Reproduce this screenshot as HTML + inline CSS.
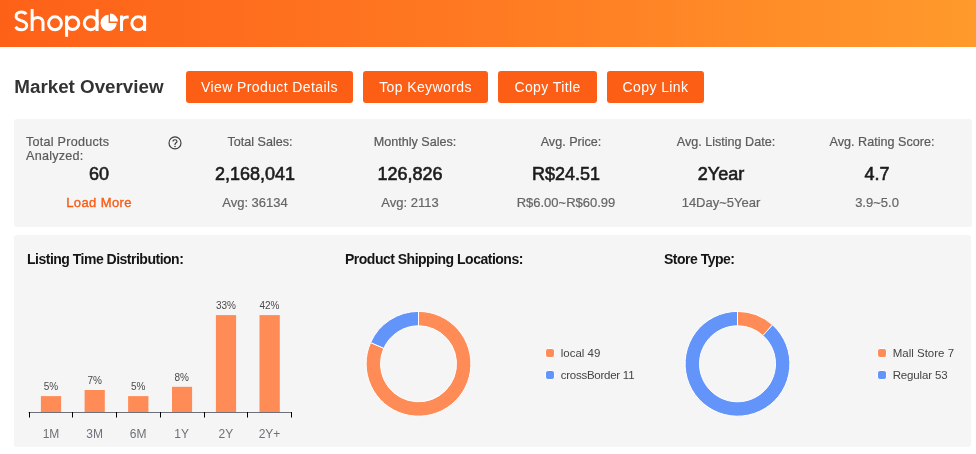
<!DOCTYPE html>
<html><head><meta charset="utf-8">
<style>
*{margin:0;padding:0;box-sizing:border-box}
html,body{width:976px;height:454px;overflow:hidden;background:#fff;}body{will-change:transform;font-family:"Liberation Sans",sans-serif}
.abs{position:absolute}
#hdr{left:0;top:0;width:976px;height:47px;background:linear-gradient(90deg,#FD6118 0%,#FF7A22 50%,#FF9A2C 100%)}
.logo{left:14px;top:0;height:46px;color:#fff;font-size:29px;line-height:46px;letter-spacing:0.6px;white-space:nowrap}
.title{left:14.3px;top:71.3px;height:32px;line-height:32px;font-size:18.8px;font-weight:bold;color:#333}
.btn{top:71px;height:32px;line-height:32px;background:#FC5E16;color:#fff;font-size:14px;letter-spacing:0.4px;text-align:center;border-radius:3px;white-space:nowrap}
.box{background:#F5F5F5;border-radius:3px}
.lbl{font-size:12.6px;color:#5a5a5a;-webkit-text-stroke:0.2px #5a5a5a;white-space:nowrap;text-align:center;width:200px}
.val{font-size:18px;font-weight:normal;-webkit-text-stroke:0.6px #1c1c1c;color:#1c1c1c;white-space:nowrap;text-align:center;width:200px}
.sub{font-size:13px;color:#666;-webkit-text-stroke:0.2px #666;white-space:nowrap;text-align:center;width:200px}
.ct{font-size:14px;font-weight:bold;color:#151515;letter-spacing:-0.5px;white-space:nowrap}
.leg{font-size:11.5px;color:#444;white-space:nowrap}
.sq{width:10px;height:10px;border:1px solid #fff;border-radius:3px}
</style></head><body>
<div id="hdr" class="abs"></div>
<svg class="abs" style="left:0;top:0" width="160" height="46" viewBox="0 0 160 46"><g fill="none" stroke="#fff" stroke-width="3"><path d="M26.2 14.2 C25.3 12.7 23.4 11.95 21.2 11.95 C18.2 11.95 16.1 13.7 16.1 16.2 C16.1 19 18.6 19.9 21.2 20.6 C24 21.4 26.7 22.4 26.7 25.4 C26.7 28 24.4 29.75 21.2 29.75 C18.6 29.75 16.6 28.6 15.6 26.7"/><path d="M32.15 9.1 V31 M32.15 22.5 C32.15 19.3 34.5 17.45 37.6 17.45 C40.7 17.45 43 19.3 43 22.5 V31"/><circle cx="55" cy="23.3" r="6.45"/><path d="M66.6 15.6 V36.8"/><circle cx="72.6" cy="23.3" r="6.2"/><circle cx="90.8" cy="23.2" r="6.45"/><path d="M97.1 9.1 V31"/><path d="M121.5 15.6 V31 M121.5 22.5 C121.5 19 123.8 16.9 127.2 16.9 H128.7"/><circle cx="138.3" cy="23.3" r="6.45"/><path d="M144.6 15.6 V31"/></g><path d="M108.6 22.9 L108.6 14.8 A8.1 8.1 0 1 0 116.7 22.9 Z" fill="#fff"/><path d="M110 21.5 L110 13.6 A7.9 7.9 0 0 1 117.9 21.5 Z" fill="#fff"/></svg>

<div class="abs title">Market Overview</div>
<div class="abs btn" style="left:186px;width:167px">View Product Details</div>
<div class="abs btn" style="left:363px;width:125px">Top Keywords</div>
<div class="abs btn" style="left:498px;width:99px">Copy Title</div>
<div class="abs btn" style="left:607px;width:97px">Copy Link</div>

<div class="abs box" style="left:14px;top:119px;width:958px;height:108px"></div>
<!-- col1 -->
<div class="abs" style="left:26px;top:135.3px;font-size:12.6px;color:#5a5a5a;-webkit-text-stroke:0.2px #5a5a5a;letter-spacing:0.25px;line-height:14px;width:120px">Total Products<br>Analyzed:</div>
<svg class="abs" style="left:168px;top:136px" width="14" height="14" viewBox="0 0 14 14"><g fill="none" stroke="#3a3a3a" stroke-width="1.15"><circle cx="7" cy="6.9" r="6"/><path d="M5 5.5 C5 4.3 5.9 3.7 7 3.7 C8.1 3.7 9 4.3 9 5.4 C9 6.7 7 6.9 7 8.4 V8.9"/></g><circle cx="7" cy="10.4" r="0.75" fill="#3a3a3a"/></svg>
<div class="abs val" style="left:-1px;top:163.5px">60</div>
<div class="abs" style="left:-1px;top:194.5px;width:200px;text-align:center;font-size:13px;letter-spacing:0.4px;-webkit-text-stroke:0.35px #FA5A14;color:#FA5A14">Load More</div>
<!-- col2..6 -->
<div class="abs lbl" style="left:160px;top:135.3px">Total Sales:</div>
<div class="abs val" style="left:155px;top:163.5px">2,168,041</div>
<div class="abs sub" style="left:155px;top:195px">Avg: 36134</div>

<div class="abs lbl" style="left:315px;top:135.3px">Monthly Sales:</div>
<div class="abs val" style="left:310px;top:163.5px">126,826</div>
<div class="abs sub" style="left:310px;top:195px">Avg: 2113</div>

<div class="abs lbl" style="left:471px;top:135.3px">Avg. Price:</div>
<div class="abs val" style="left:466px;top:163.5px">R$24.51</div>
<div class="abs sub" style="left:466px;top:195px">R$6.00~R$60.99</div>

<div class="abs lbl" style="left:626px;top:135.3px">Avg. Listing Date:</div>
<div class="abs val" style="left:621px;top:163.5px">2Year</div>
<div class="abs sub" style="left:621px;top:195px">14Day~5Year</div>

<div class="abs lbl" style="left:782px;top:135.3px">Avg. Rating Score:</div>
<div class="abs val" style="left:777px;top:163.5px">4.7</div>
<div class="abs sub" style="left:777px;top:195px">3.9~5.0</div>

<div class="abs box" style="left:14px;top:235px;width:957px;height:212px"></div>
<div class="abs ct" style="left:27px;top:251px">Listing Time Distribution:</div>
<div class="abs ct" style="left:345px;top:251px">Product Shipping Locations:</div>
<div class="abs ct" style="left:664px;top:251px">Store Type:</div>

<svg class="abs" style="left:0;top:0" width="976" height="454" viewBox="0 0 976 454">
  <g fill="#FF8C57">
    <rect x="40.9" y="396.1" width="20.2" height="16.4"/>
    <rect x="84.6" y="390" width="20.2" height="22.5"/>
    <rect x="128.1" y="396.1" width="20.3" height="16.4"/>
    <rect x="172" y="386.8" width="20.1" height="25.7"/>
    <rect x="215.9" y="315.1" width="20.2" height="97.4"/>
    <rect x="259.5" y="315.1" width="20.3" height="97.4"/>
  </g>
  <g stroke-width="1" fill="none"><path d="M28.5 412.5 H292" stroke="#6E7079"/><path d="M29.5 412 V417.5 M72.5 412 V417.5 M116.5 412 V417.5 M160.5 412 V417.5 M204.5 412 V417.5 M247.5 412 V417.5 M291.5 412 V417.5" stroke="#000"/></g>
  <g font-family="Liberation Sans" font-size="10" fill="#4a4a4a" text-anchor="middle">
    <text x="51" y="390">5%</text>
    <text x="94.7" y="384">7%</text>
    <text x="138.2" y="390">5%</text>
    <text x="181.7" y="380.5">8%</text>
    <text x="225.9" y="309">33%</text>
    <text x="269.5" y="309">42%</text>
  </g>
  <g font-family="Liberation Sans" font-size="12" fill="#6E7079" text-anchor="middle">
    <text x="51" y="437.7">1M</text>
    <text x="94.7" y="437.7">3M</text>
    <text x="138.2" y="437.7">6M</text>
    <text x="181.7" y="437.7">1Y</text>
    <text x="225.9" y="437.7">2Y</text>
    <text x="269.5" y="437.7">2Y+</text>
  </g>
  <!-- donut 1 -->
  <g id="d1"><path d="M418.50 311.40 A52.4 52.4 0 1 1 370.63 342.49 L383.79 348.34 A38.0 38.0 0 1 0 418.50 325.80 Z" fill="#FF8C57" stroke="#fff" stroke-width="1" stroke-linejoin="round"/>
<path d="M370.63 342.49 A52.4 52.4 0 0 1 418.50 311.40 L418.50 325.80 A38.0 38.0 0 0 0 383.79 348.34 Z" fill="#6394F9" stroke="#fff" stroke-width="1" stroke-linejoin="round"/></g>
  <g id="d2"><path d="M737.50 311.40 A52.4 52.4 0 0 1 772.56 324.86 L762.93 335.56 A38.0 38.0 0 0 0 737.50 325.80 Z" fill="#FF8C57" stroke="#fff" stroke-width="1" stroke-linejoin="round"/>
<path d="M772.56 324.86 A52.4 52.4 0 1 1 737.50 311.40 L737.50 325.80 A38.0 38.0 0 1 0 762.93 335.56 Z" fill="#6394F9" stroke="#fff" stroke-width="1" stroke-linejoin="round"/></g>
</svg>

<div class="abs sq" style="left:544.8px;top:348.3px;background:#FF8C57"></div>
<div class="abs leg" style="left:560.7px;top:347px">local 49</div>
<div class="abs sq" style="left:544.8px;top:370.3px;background:#6394F9"></div>
<div class="abs leg" style="left:560.7px;top:369px;letter-spacing:-0.25px">crossBorder 11</div>

<div class="abs sq" style="left:877.3px;top:348.3px;background:#FF8C57"></div>
<div class="abs leg" style="left:892.7px;top:347px">Mall Store 7</div>
<div class="abs sq" style="left:877.3px;top:370.3px;background:#6394F9"></div>
<div class="abs leg" style="left:892.7px;top:369px;letter-spacing:-0.15px">Regular 53</div>
</body></html>
